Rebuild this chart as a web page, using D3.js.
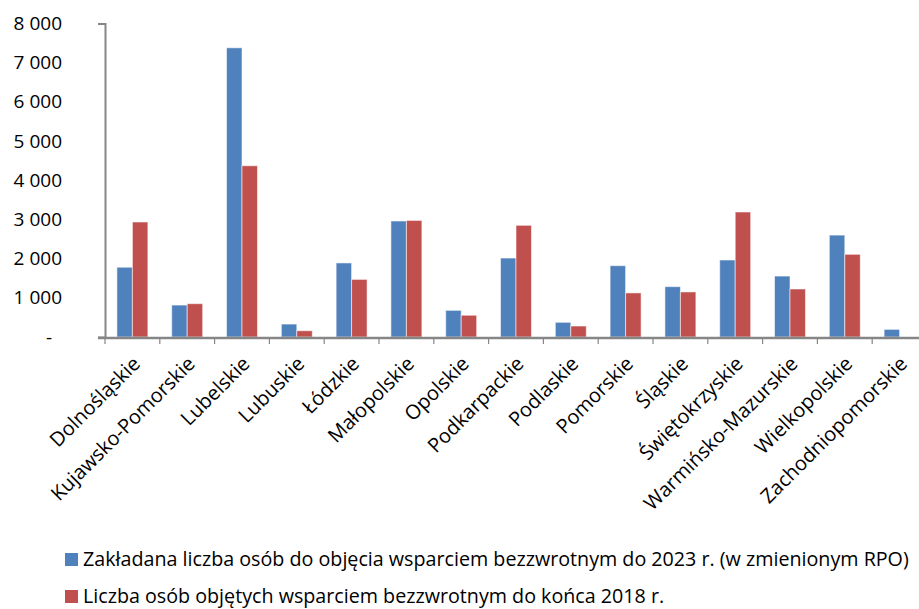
<!DOCTYPE html>
<html>
<head>
<meta charset="utf-8">
<script src="https://cdn.jsdelivr.net/npm/d3@7"></script>
<style>
  body { margin: 0; background: #fff; }
  svg { display: block; font-family: "Open Sans", sans-serif; }
</style>
</head>
<body>
<div id="chart"></div>
<script>
// Regions (województwa)
const regions = [
  "Dolnośląskie", "Kujawsko-Pomorskie", "Lubelskie", "Lubuskie", "Łódzkie",
  "Małopolskie", "Opolskie", "Podkarpackie", "Podlaskie", "Pomorskie",
  "Śląskie", "Świętokrzyskie", "Warmińsko-Mazurskie", "Wielkopolskie", "Zachodniopomorskie"
];

// planned number of people to support until 2023 (changed RPO)
const planned2023 = [1780, 815, 7380, 330, 1890, 2960, 680, 2015, 375, 1820, 1285, 1965, 1555, 2600, 195];
// people supported until end of 2018
const actual2018 = [2935, 850, 4370, 160, 1470, 2975, 555, 2850, 280, 1125, 1150, 3190, 1225, 2110, 0];

const seriesNames = [
  "Zakładana liczba osób do objęcia wsparciem bezzwrotnym do 2023 r. (w zmienionym RPO)",
  "Liczba osób objętych wsparciem bezzwrotnym do końca 2018 r."
];
const seriesColors = ["#4F81BD", "#C0504D"];
const yTicks = [0, 1000, 2000, 3000, 4000, 5000, 6000, 7000, 8000];

const width = 919;
const height = 609;

const table = regions.map((r, i) => ({ region: r, values: [planned2023[i], actual2018[i]] }));

const svg = d3.select("#chart").append("svg")
  .attr("width", width)
  .attr("height", height);

// the plot runs past the right edge of the picture (last category is cut)
const x = d3.scaleBand()
  .domain(regions)
  .range([105, 105 + 15 * 54.8])
  .padding(0);

const x1 = d3.scaleBand()
  .domain([0, 1])
  .range([0, x.bandwidth()])
  .paddingInner(0)
  .paddingOuter(0.77);

const y = d3.scaleLinear()
  .domain([0, 8000])
  .range([337, 23.5]);

// bars
const groups = svg.append("g")
  .selectAll("g")
  .data(table)
  .join("g")
  .attr("transform", d => `translate(${x(d.region)},0)`);

groups.selectAll("rect")
  .data(d => d.values.map((v, k) => ({ k, v })))
  .join("rect")
  .attr("x", d => x1(d.k))
  .attr("width", x1.bandwidth())
  .attr("y", d => y(d.v))
  .attr("height", d => y(0) - y(d.v))
  .attr("fill", d => seriesColors[d.k])
  .attr("stroke", "rgba(255,255,255,0.55)")
  .attr("stroke-width", 1)
  .style("display", d => d.v > 0 ? null : "none");

// y axis
const yAxis = svg.append("g")
  .attr("transform", "translate(105,0)")
  .call(d3.axisLeft(y)
    .tickValues(yTicks)
    .tickSizeInner(0)
    .tickSizeOuter(7)
    .tickPadding(43)
    .tickFormat(d => d === 0 ? "-" : d3.format(",")(d).replace(/,/g, " ")));

yAxis.select(".domain").attr("stroke", "#868686").attr("stroke-width", 2);
yAxis.selectAll("text")
  .attr("fill", "#000")
  .style("font-size", "19px")
  .style("font-family", "'Open Sans', sans-serif");
yAxis.selectAll(".tick").filter(d => d === 0).select("text").attr("dx", -10);

// x axis line
svg.append("line")
  .attr("x1", 98).attr("x2", width)
  .attr("y1", y(0) + 1).attr("y2", y(0) + 1)
  .attr("stroke", "#868686")
  .attr("stroke-width", 2.5);

// category boundary ticks
svg.append("g")
  .selectAll("line")
  .data(regions)
  .join("line")
  .attr("x1", d => x(d)).attr("x2", d => x(d))
  .attr("y1", y(0) + 1).attr("y2", y(0) + 7)
  .attr("stroke", "#868686")
  .attr("stroke-width", 1.2);

// category labels
svg.append("g")
  .selectAll("text")
  .data(regions)
  .join("text")
  .attr("transform", d => `translate(${x(d) + x.bandwidth() / 2 + 4},360) rotate(-45)`)
  .attr("text-anchor", "end")
  .attr("dy", "0.35em")
  .style("font-size", "20px")
  .text(d => d);

// legend
const legend = svg.append("g")
  .selectAll("g")
  .data(seriesNames)
  .join("g")
  .attr("transform", (d, i) => `translate(65,${553 + i * 37})`);

legend.append("rect")
  .attr("width", 13)
  .attr("height", 13)
  .attr("fill", (d, i) => seriesColors[i]);

legend.append("text")
  .attr("x", 18)
  .attr("y", 13)
  .style("font-size", "19.7px")
  .text(d => d);
</script>
</body>
</html>
